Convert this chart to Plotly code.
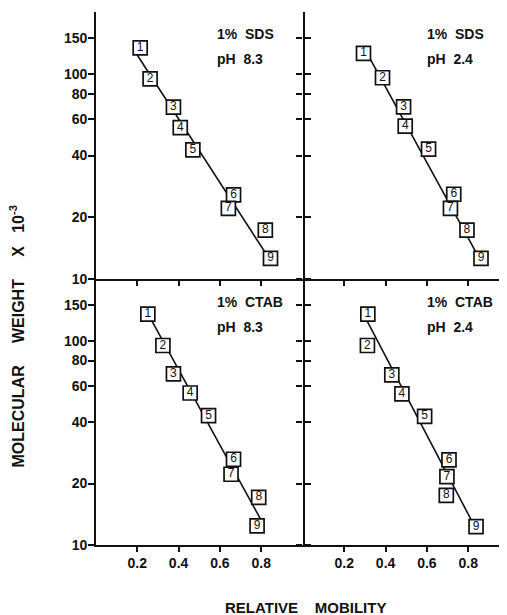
import plotly.graph_objects as go

# ---------------- data ----------------
labels = ["1", "2", "3", "4", "5", "6", "7", "8", "9"]

# panel A: 1% SDS pH 8.3
sds83_mob = [0.214, 0.262, 0.375, 0.408, 0.469, 0.666, 0.641, 0.820, 0.845]
sds83_mw = [134, 94.6, 68.9, 54.7, 42.6, 25.7, 22.1, 17.3, 12.6]
sds83_fit_mob = [0.184, 0.837]
sds83_fit_mw = [131, 12.65]

# panel B: 1% SDS pH 2.4
sds24_mob = [0.293, 0.385, 0.487, 0.495, 0.608, 0.730, 0.714, 0.794, 0.862]
sds24_mw = [126, 95.9, 69.2, 55.7, 43.0, 25.9, 22.1, 17.3, 12.6]
sds24_fit_mob = [0.312, 0.854]
sds24_fit_mw = [125.4, 12.6]

# panel C: 1% CTAB pH 8.3
ctab83_mob = [0.251, 0.324, 0.375, 0.456, 0.545, 0.666, 0.654, 0.788, 0.780]
ctab83_mw = [135, 94.8, 68.9, 55.5, 43.0, 26.3, 22.2, 17.1, 12.4]
ctab83_fit_mob = [0.252, 0.799]
ctab83_fit_mw = [135.5, 13.26]

# panel D: 1% CTAB pH 2.4
ctab24_mob = [0.314, 0.312, 0.430, 0.479, 0.589, 0.707, 0.697, 0.694, 0.838]
ctab24_mw = [135, 94.8, 68.0, 55.0, 42.6, 26.1, 21.6, 17.5, 12.3]
ctab24_fit_mob = [0.295, 0.828]
ctab24_fit_mw = [134, 12.5]

panel_text = [("1%  SDS", "pH  8.3"), ("1%  SDS", "pH  2.4"),
              ("1%  CTAB", "pH  8.3"), ("1%  CTAB", "pH  2.4")]

y_tickvals = [10, 20, 40, 60, 80, 100, 150]
y_ticktext = ["10", "20", "40", "60", "80", "100", "150"]
x_tickvals = [0.2, 0.4, 0.6, 0.8]
x_ticktext = ["0.2", "0.4", "0.6", "0.8"]

# ---------------- layout geometry ----------------
W, H = 507, 615
OFF = 8  # page body margin


def px(sx):
    return (sx - OFF) / W


def py(sy):
    return 1 - (sy - OFF) / H


XL, XM, XR = px(96), px(303), px(508)
YT, YM, YB = py(12), py(279), py(545)
PXU = 206.5
x_rng_left = [0, (303 - 96) / PXU]
x_rng_right = [0, (508 - 303) / PXU]
y_rng = [1, 1 + 267 / 205]

FONT = "Liberation Sans"
BLACK = "#111111"

fig = go.Figure()

panels = [
    (sds83_mob, sds83_mw, sds83_fit_mob, sds83_fit_mw, "x", "y"),
    (sds24_mob, sds24_mw, sds24_fit_mob, sds24_fit_mw, "x2", "y2"),
    (ctab83_mob, ctab83_mw, ctab83_fit_mob, ctab83_fit_mw, "x3", "y3"),
    (ctab24_mob, ctab24_mw, ctab24_fit_mob, ctab24_fit_mw, "x4", "y4"),
]

for mob, mw, fm, fw, xa, ya in panels:
    fig.add_trace(go.Scatter(x=fm, y=fw, mode="lines", xaxis=xa, yaxis=ya,
                             line=dict(color=BLACK, width=1.6),
                             showlegend=False, hoverinfo="skip"))
    fig.add_trace(go.Scatter(x=mob, y=mw, mode="markers+text", xaxis=xa, yaxis=ya,
                             text=labels, textposition="middle center",
                             textfont=dict(family=FONT, size=12, color=BLACK),
                             marker=dict(symbol="square", size=14, color="white",
                                         line=dict(color=BLACK, width=1.7)),
                             showlegend=False))

common_x = dict(tickvals=x_tickvals, ticktext=x_ticktext, showgrid=False,
                zeroline=False, showline=True, linecolor=BLACK, linewidth=1.8,
                tickcolor=BLACK, tickwidth=1.5, ticklen=5, ticks="outside",
                automargin=False,
                tickfont=dict(family=FONT, size=14, color=BLACK, weight="bold"))
common_y = dict(type="log", range=y_rng, tickvals=y_tickvals, ticktext=y_ticktext,
                showgrid=False, zeroline=False, showline=True, linecolor=BLACK,
                linewidth=1.8, tickcolor=BLACK, tickwidth=1.5, ticklen=6,
                ticks="outside", automargin=False,
                tickfont=dict(family=FONT, size=14, color=BLACK, weight="bold"))

fig.update_layout(
    width=W, height=H, margin=dict(l=0, r=0, t=0, b=0, autoexpand=False),
    paper_bgcolor="white", plot_bgcolor="white", showlegend=False,
    xaxis=dict(common_x, domain=[XL, XM], range=x_rng_left, anchor="y",
               showticklabels=False),
    xaxis2=dict(common_x, domain=[XM, XR], range=x_rng_right, anchor="y2",
                showticklabels=False),
    xaxis3=dict(common_x, domain=[XL, XM], range=x_rng_left, anchor="y3",
                ticklabelstandoff=-1),
    xaxis4=dict(common_x, domain=[XM, XR], range=x_rng_right, anchor="y4",
                ticklabelstandoff=-1),
    # top border with inward ticks
    xaxis5=dict(common_x, overlaying="x", side="top", anchor="y", range=x_rng_left,
                ticks="inside", showticklabels=False),
    xaxis6=dict(common_x, overlaying="x2", side="top", anchor="y2", range=x_rng_right,
                ticks="inside", showticklabels=False),
    yaxis=dict(common_y, domain=[YM, YT], anchor="x", mirror="ticks",
               ticklabelstandoff=-2),
    yaxis2=dict(common_y, domain=[YM, YT], anchor="x2", showticklabels=False,
                showline=False),
    yaxis3=dict(common_y, domain=[YB, YM], anchor="x3", mirror="ticks",
                ticklabelstandoff=-2),
    yaxis4=dict(common_y, domain=[YB, YM], anchor="x4", showticklabels=False,
                showline=False),
    # faint inward ticks on the open right edge
    yaxis5=dict(common_y, overlaying="y2", side="right", anchor="x2", showline=False,
                ticks="inside", ticklen=3, tickcolor="#999999", showticklabels=False),
    yaxis6=dict(common_y, overlaying="y4", side="right", anchor="x4", showline=False,
                ticks="inside", ticklen=3, tickcolor="#999999", showticklabels=False),
)

# panel annotations (screen positions of text left edge / line centers)
ann_pos = [(215, 34, 59), (425, 34, 59), (215, 302, 327), (425, 302, 327)]
for (t1, t2), (sx, sy1, sy2) in zip(panel_text, ann_pos):
    for t, sy in ((t1, sy1), (t2, sy2)):
        fig.add_annotation(x=px(sx), y=py(sy), xref="paper", yref="paper",
                           text=t.replace("  ", "\u00a0\u00a0"), showarrow=False,
                           xanchor="left", yanchor="middle",
                           font=dict(family=FONT, size=14, color=BLACK, weight="bold"))

nb = "\u00a0"
fig.add_annotation(x=px(17.5), y=py(337), xref="paper", yref="paper",
                   text="MOLECULAR" + nb * 5 + "WEIGHT" + nb * 5 + "X" + nb * 3
                        + "10<sup>-3</sup>",
                   textangle=-90, showarrow=False, xanchor="center", yanchor="middle",
                   font=dict(family=FONT, size=16, color=BLACK, weight="bold"))
fig.add_annotation(x=px(305), y=py(607), xref="paper", yref="paper",
                   text="RELATIVE" + nb * 4 + "MOBILITY", showarrow=False,
                   xanchor="center", yanchor="middle",
                   font=dict(family=FONT, size=15, color=BLACK, weight="bold"))

fig.write_html("out.html")
